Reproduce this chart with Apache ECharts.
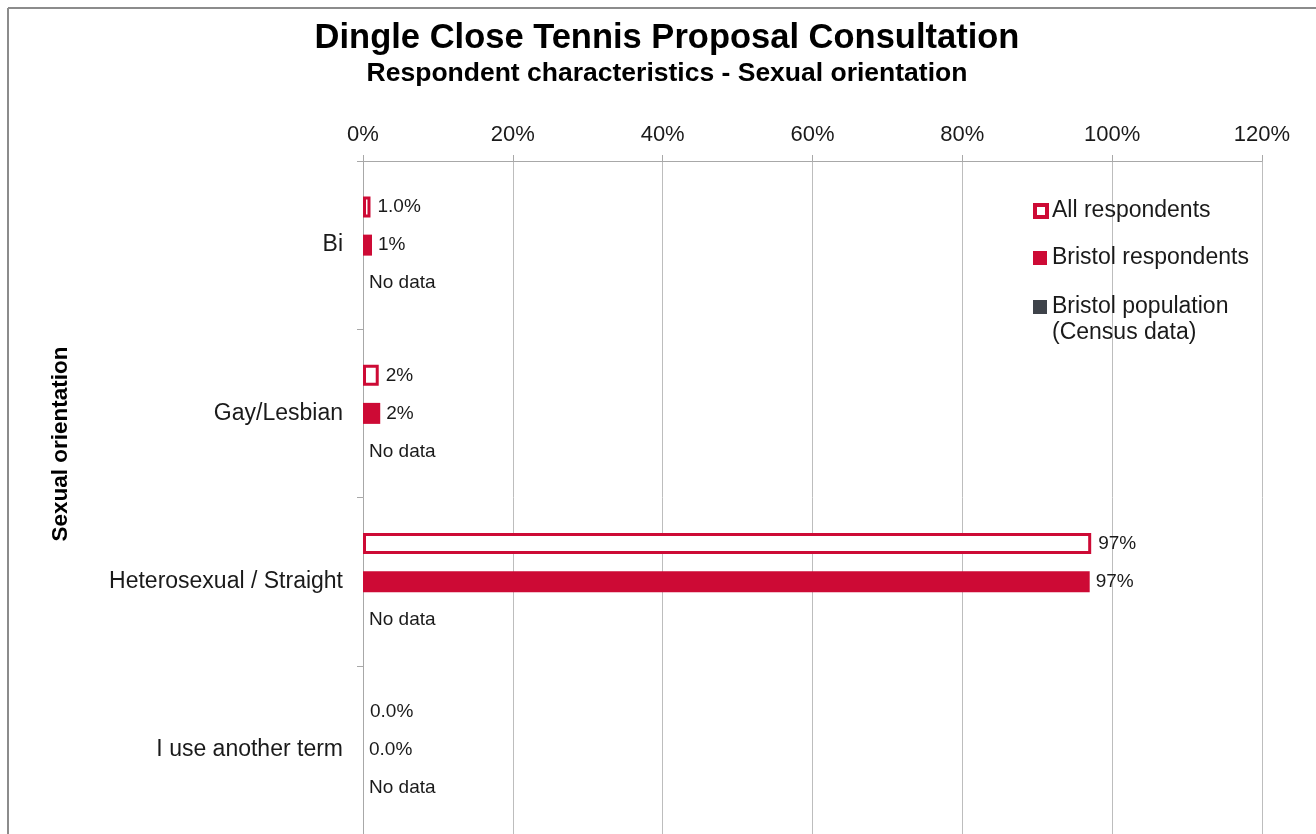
<!DOCTYPE html>
<html>
<head>
<meta charset="utf-8">
<script src="https://cdn.jsdelivr.net/npm/echarts@6/dist/echarts.min.js"></script>
<style>
  html, body { margin: 0; padding: 0; background: #ffffff; }
  #chart { width: 1316px; height: 834px; }
</style>
</head>
<body>
<div id="chart"></div>
<script>
// Categories, top to bottom
const categories = ['Bi', 'Gay/Lesbian', 'Heterosexual / Straight', 'I use another term'];

// Percent of respondents per group
const allRespondents = [1.0, 2.1, 97.2, 0.0];
const allRespondentsLabels = ['1.0%', '2%', '97%', '0.0%'];

const bristolRespondents = [1.2, 2.3, 97.0, 0.0];
const bristolRespondentsLabels = ['1%', '2%', '97%', '0.0%'];

// No census figures are available for these groups
const bristolPopulation = [0, 0, 0, 0];
const bristolPopulationLabels = ['No data', 'No data', 'No data', 'No data'];

const seriesNames = ['All respondents', 'Bristol respondents', 'Bristol population (Census data)'];

// Value axis ticks (percent)
const axisMin = 0;
const axisMax = 120;
const axisStep = 20;

const FONT = '"Liberation Sans", Arial, Helvetica, sans-serif';
const RED = '#cd0a35';
const GREY = '#3e434a';
const TEXT = '#1a1a1a';
const LINE = '#a8a8a8';

const chart = echarts.init(document.getElementById('chart'), null, { renderer: 'canvas' });

const labelOf = (arr, distance) => ({
  show: true,
  position: 'right',
  distance: distance,
  color: TEXT,
  fontFamily: FONT,
  fontSize: 19,
  formatter: p => arr[p.dataIndex]
});

const legendText = {
  color: TEXT,
  fontFamily: FONT,
  fontSize: 23,
  lineHeight: 26
};

chart.setOption({
  animation: false,
  backgroundColor: '#ffffff',
  title: [
    {
      text: 'Dingle Close Tennis Proposal Consultation',
      left: 667, top: 21, textAlign: 'center', padding: 0,
      textStyle: { fontFamily: FONT, fontSize: 34.5, fontWeight: 'bold', color: '#000' }
    },
    {
      text: 'Respondent characteristics - Sexual orientation',
      left: 667, top: 60, textAlign: 'center', padding: 0,
      textStyle: { fontFamily: FONT, fontSize: 26.5, fontWeight: 'bold', color: '#000' }
    }
  ],
  legend: [
    {
      left: 1033, top: 198, padding: 0, orient: 'vertical', icon: 'rect',
      itemWidth: 12, itemHeight: 12, selectedMode: false,
      textStyle: legendText,
      data: [{ name: seriesNames[0], itemStyle: { color: '#ffffff', borderColor: RED, borderWidth: 4 } }]
    },
    {
      left: 1033, top: 245, padding: 0, orient: 'vertical', icon: 'rect',
      itemWidth: 14, itemHeight: 14, selectedMode: false,
      textStyle: legendText,
      data: [{ name: seriesNames[1], itemStyle: { color: RED, borderWidth: 0 } }]
    },
    {
      left: 1033, top: 268, padding: 0, orient: 'vertical', icon: 'rect',
      itemWidth: 14, itemHeight: 14, selectedMode: false,
      textStyle: Object.assign({}, legendText, {
        rich: {
          pad: { fontSize: 23, lineHeight: 26 },
          t: { color: TEXT, fontFamily: FONT, fontSize: 23, lineHeight: 26 }
        }
      }),
      // first line of the two-line name sits level with the swatch
      formatter: name => {
        const parts = name.split(' (');
        return '{pad| }\n{t|' + parts[0] + '}\n{t|(' + parts[1] + '}';
      },
      data: [{ name: seriesNames[2], itemStyle: { color: GREY, borderWidth: 0 } }]
    }
  ],
  graphic: [
    // chart frame
    { type: 'line', shape: { x1: 8, y1: 8, x2: 1316, y2: 8 }, style: { stroke: '#8c8c8c', lineWidth: 2 }, silent: true },
    { type: 'line', shape: { x1: 8, y1: 8, x2: 8, y2: 834 }, style: { stroke: '#8c8c8c', lineWidth: 2 }, silent: true },
    // category axis title
    {
      type: 'text', x: 61, y: 444, rotation: Math.PI / 2, silent: true,
      style: {
        text: 'Sexual orientation', fontFamily: FONT, fontSize: 22.5, fontWeight: 'bold',
        fill: '#000', align: 'center', verticalAlign: 'middle'
      }
    }
  ],
  grid: { left: 363, top: 161, width: 899, height: 677, containLabel: false },
  xAxis: {
    type: 'value',
    position: 'top',
    min: axisMin, max: axisMax, interval: axisStep,
    axisLine: { show: true, lineStyle: { color: LINE, width: 1 } },
    axisTick: { show: true, length: 6, lineStyle: { color: LINE } },
    splitLine: { show: true, lineStyle: { color: '#bdbdbd', width: 1 } },
    axisLabel: {
      formatter: '{value}%', color: TEXT, fontFamily: FONT, fontSize: 22, margin: 15
    }
  },
  yAxis: {
    type: 'category',
    inverse: true,
    data: categories,
    axisLine: { show: true, lineStyle: { color: LINE, width: 1 } },
    axisTick: { show: true, length: 6, alignWithLabel: false, lineStyle: { color: LINE } },
    splitLine: { show: false },
    axisLabel: { color: TEXT, fontFamily: FONT, fontSize: 23, margin: 20 }
  },
  series: [
    {
      name: seriesNames[0], type: 'bar', barWidth: 21, barGap: '81%',
      itemStyle: { color: '#ffffff', borderColor: RED, borderWidth: 3 },
      label: labelOf(allRespondentsLabels, 7),
      data: allRespondents.map(v => (v === 0 ? { value: v, itemStyle: { borderWidth: 0 } } : v))
    },
    {
      name: seriesNames[1], type: 'bar', barWidth: 21, barGap: '81%',
      itemStyle: { color: RED },
      label: labelOf(bristolRespondentsLabels, 6),
      data: bristolRespondents
    },
    {
      name: seriesNames[2], type: 'bar', barWidth: 21, barGap: '81%',
      itemStyle: { color: GREY },
      label: labelOf(bristolPopulationLabels, 6),
      data: bristolPopulation
    }
  ]
});
</script>
</body>
</html>
